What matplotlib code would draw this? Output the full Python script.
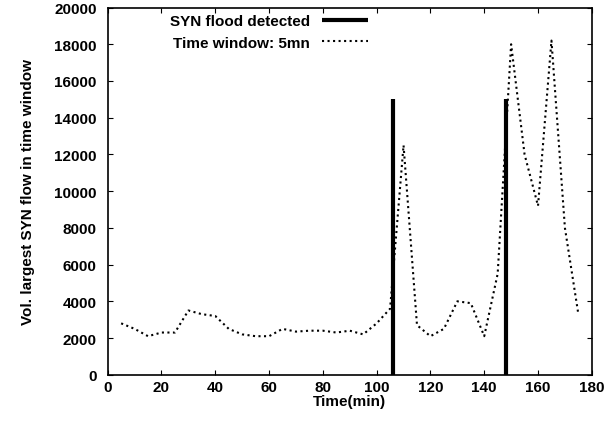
import matplotlib
matplotlib.use("Agg")
import matplotlib.pyplot as plt

plt.rcParams['font.family'] = ['Liberation Sans', 'DejaVu Sans']
plt.rcParams['font.weight'] = 'bold'

times = list(range(5, 180, 5))
volumes = [2800, 2500, 2100, 2300, 2300, 3500, 3300, 3200, 2500, 2200,
           2100, 2100, 2500, 2350, 2400, 2400, 2300, 2400, 2200, 2800,
           3600, 12500, 2700, 2100, 2500, 4000, 3900, 2100, 5500, 18000,
           12000, 9200, 18200, 8000, 3300]
detect_times = [106, 148]
detect_height = 15000

fig, ax = plt.subplots(figsize=(6.12, 4.27), dpi=100)
ax.vlines(detect_times, 0, detect_height, colors='black', linewidth=3, label='SYN flood detected')
ax.plot(times, volumes, color='black', linestyle=':', linewidth=1.5, label='Time window: 5mn')

ax.set_xlim(0, 180)
ax.set_ylim(0, 20000)
ax.set_xticks(range(0, 181, 20))
ax.set_yticks(range(0, 20001, 2000))
ax.tick_params(direction='in', top=True, right=True, labelsize=11)
ax.tick_params(axis='y', pad=8)
for s in ax.spines.values():
    s.set_linewidth(1.2)
ax.set_xlabel('Time(min)', fontsize=11, fontweight='bold', labelpad=0)
ax.set_ylabel('Vol. largest SYN flow in time window', fontsize=11, fontweight='bold', labelpad=14)
ax.legend(loc='upper left', frameon=False, fontsize=11, handlelength=3,
          bbox_to_anchor=(0.1, 1.02), markerfirst=False)

plt.subplots_adjust(left=0.176, right=0.967, top=0.98, bottom=0.12)
fig.savefig('out.png')
